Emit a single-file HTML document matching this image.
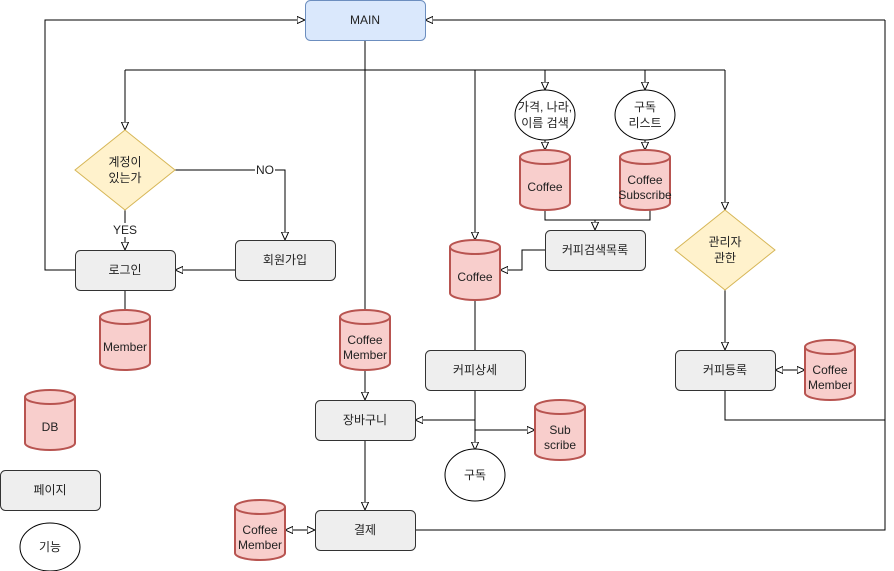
<!DOCTYPE html>
<html><head><meta charset="utf-8"><style>body{margin:0;background:#fff}svg{display:block}text{font-family:"Liberation Sans","Noto Sans CJK KR",sans-serif;font-size:12px;fill:#222;text-anchor:middle;dominant-baseline:central}</style></head><body>
<svg width="894" height="571" viewBox="0 0 894 571" xmlns="http://www.w3.org/2000/svg">
<defs>
<marker id="a" viewBox="0 0 10 10" refX="10" refY="5" markerWidth="8" markerHeight="8" orient="auto-start-reverse" markerUnits="userSpaceOnUse"><path d="M0,0.5 L10,5 L0,9.5 Z" fill="#fff" stroke="#000" stroke-width="1.2"/></marker>
<g id="cyl"><path d="M-25,-23 L-25,23 A25,7 0 0 0 25,23 L25,-23" fill="#f8cecc" stroke="#b85450" stroke-width="2"/><ellipse cx="0" cy="-23" rx="25" ry="7" fill="#f8cecc" stroke="#b85450" stroke-width="2"/></g>
</defs>
<g fill="none" stroke="#000" stroke-width="1">
<path d="M75,270 H45 V20 H305" marker-end="url(#a)"/>
<path d="M885,20 H425" marker-end="url(#a)"/>
<path d="M885,20 V530 H415"/>
<path d="M725,390 V420 H885"/>
<path d="M365,40 V310"/>
<path d="M125,70 H725"/>
<path d="M125,70 V130" marker-end="url(#a)"/>
<path d="M125,210 V250" marker-end="url(#a)"/>
<path d="M175,170 H285 V240" marker-end="url(#a)"/>
<path d="M235,270 H175" marker-end="url(#a)"/>
<path d="M125,290 V310"/>
<path d="M475,70 V240" marker-end="url(#a)"/>
<path d="M545,70 V90" marker-end="url(#a)"/>
<path d="M645,70 V90" marker-end="url(#a)"/>
<path d="M545,140 V150" marker-end="url(#a)"/>
<path d="M645,140 V150" marker-end="url(#a)"/>
<path d="M545,210 V220 H650 V210"/>
<path d="M595,220 V230" marker-end="url(#a)"/>
<path d="M545,250 H522 V270 H500" marker-end="url(#a)"/>
<path d="M725,70 V210" marker-end="url(#a)"/>
<path d="M725,290 V350" marker-end="url(#a)"/>
<path d="M775,370 H805" marker-start="url(#a)" marker-end="url(#a)"/>
<path d="M475,300 V350"/>
<path d="M475,390 V450" marker-end="url(#a)"/>
<path d="M475,420 H415" marker-end="url(#a)"/>
<path d="M475,430 H535" marker-end="url(#a)"/>
<path d="M365,370 V400" marker-end="url(#a)"/>
<path d="M365,440 V510" marker-end="url(#a)"/>
<path d="M285,530 H315" marker-start="url(#a)" marker-end="url(#a)"/>
</g>
<rect x="305.5" y="0.5" width="120" height="40" rx="5" fill="#dae8fc" stroke="#6c8ebf"/><text x="365" y="20">MAIN</text>
<path d="M125,130 L175,170 L125,210 L75,170 Z" fill="#fff2cc" stroke="#d6b656"/><text x="125" y="162">계정이</text><text x="125" y="178">있는가</text>
<path d="M725,210 L775,250 L725,290 L675,250 Z" fill="#fff2cc" stroke="#d6b656"/><text x="725" y="242">관리자</text><text x="725" y="258">관한</text>
<rect x="255" y="163" width="20" height="14" fill="#fff"/><text x="265" y="170">NO</text>
<rect x="112" y="223" width="26" height="14" fill="#fff"/><text x="125" y="230">YES</text>
<g fill="#eeeeee" stroke="#333">
<rect x="75.5" y="250.5" width="100" height="40" rx="5"/>
<rect x="235.5" y="240.5" width="100" height="40" rx="5"/>
<rect x="545.5" y="230.5" width="100" height="40" rx="5"/>
<rect x="425.5" y="350.5" width="100" height="40" rx="5"/>
<rect x="675.5" y="350.5" width="100" height="40" rx="5"/>
<rect x="315.5" y="400.5" width="100" height="40" rx="5"/>
<rect x="315.5" y="510.5" width="100" height="40" rx="5"/>
<rect x="0.5" y="470.5" width="100" height="40" rx="5"/>
</g>
<text x="125" y="270">로그인</text><text x="285" y="260">회원가입</text><text x="595" y="250">커피검색목록</text><text x="475" y="370">커피상세</text><text x="725" y="370">커피등록</text><text x="365" y="420">장바구니</text><text x="365" y="530">결제</text><text x="50" y="490">페이지</text>
<g fill="#fff" stroke="#000"><ellipse cx="545" cy="115" rx="30" ry="25"/><ellipse cx="645" cy="115" rx="30" ry="25"/><ellipse cx="475" cy="475" rx="30" ry="26"/><ellipse cx="50" cy="547" rx="30" ry="24"/></g>
<text x="545" y="107">가격, 나라,</text><text x="545" y="123">이름 검색</text><text x="645" y="107">구독</text><text x="645" y="123">리스트</text><text x="475" y="475">구독</text><text x="50" y="547">기능</text>
<use href="#cyl" x="545" y="180"/><text x="545" y="187">Coffee</text>
<use href="#cyl" x="645" y="180"/><text x="645" y="180">Coffee</text><text x="645" y="195">Subscribe</text>
<use href="#cyl" x="475" y="270"/><text x="475" y="277">Coffee</text>
<use href="#cyl" x="125" y="340"/><text x="125" y="347">Member</text>
<use href="#cyl" x="365" y="340"/><text x="365" y="340">Coffee</text><text x="365" y="355">Member</text>
<use href="#cyl" x="830" y="370"/><text x="830" y="370">Coffee</text><text x="830" y="385">Member</text>
<use href="#cyl" x="560" y="430"/><text x="560" y="430">Sub</text><text x="560" y="445">scribe</text>
<use href="#cyl" x="260" y="530"/><text x="260" y="530">Coffee</text><text x="260" y="545">Member</text>
<use href="#cyl" x="50" y="420"/><text x="50" y="427">DB</text>
</svg>
</body></html>
